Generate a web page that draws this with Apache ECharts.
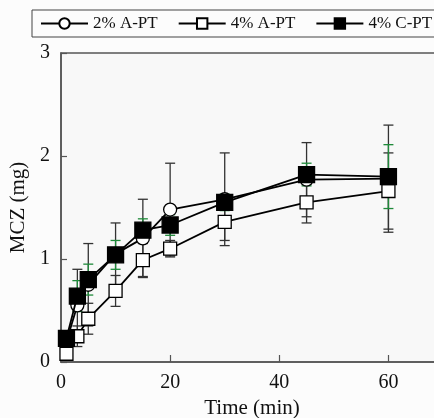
<!DOCTYPE html>
<html><head><meta charset="utf-8">
<script src="https://cdn.jsdelivr.net/npm/echarts@6/dist/echarts.min.js"></script>
<style>html,body{margin:0;padding:0;background:#fcfcfc}#c{width:434px;height:418px}</style>
</head><body><div id="c"></div>
<script>
const times = [1, 3, 5, 10, 15, 20, 30, 45, 60];
const a2 = [0.2, 0.55, 0.75, 1.05, 1.2, 1.48, 1.58, 1.77, 1.78];
const a2Err = [0.08, 0.35, 0.4, 0.3, 0.38, 0.45, 0.45, 0.36, 0.52];
const a4 = [0.08, 0.25, 0.42, 0.69, 0.99, 1.1, 1.36, 1.55, 1.66];
const a4Err = [0.05, 0.1, 0.15, 0.15, 0.16, 0.08, 0.18, 0.2, 0.37];
const c4 = [0.23, 0.64, 0.8, 1.04, 1.28, 1.33, 1.55, 1.82, 1.8];
const c4Err = [0.05, 0.15, 0.15, 0.14, 0.11, 0.1, 0.08, 0.11, 0.31];
const xTicks = [0, 20, 40, 60];
const yTicks = [0, 1, 2, 3];
const names = ['2% A-PT', '4% A-PT', '4% C-PT'];

const FONT = '"Liberation Serif","Times New Roman",serif';

function errSeries(vals, errs, color) {
  return {
    type: 'custom', silent: true, z: 1,
    renderItem: function (params, api) {
      const x = api.value(0), lo = api.value(1), hi = api.value(2);
      const p1 = api.coord([x, lo]), p2 = api.coord([x, hi]);
      const w = 5;
      const st = {stroke: color, lineWidth: 1.3};
      return {type: 'group', children: [
        {type: 'line', shape: {x1: p1[0], y1: p1[1], x2: p2[0], y2: p2[1]}, style: st},
        {type: 'line', shape: {x1: p1[0]-w, y1: p1[1], x2: p1[0]+w, y2: p1[1]}, style: st},
        {type: 'line', shape: {x1: p2[0]-w, y1: p2[1], x2: p2[0]+w, y2: p2[1]}, style: st}
      ]};
    },
    encode: {x: 0, y: [1, 2]},
    data: times.map((t, i) => [t, vals[i] - errs[i], vals[i] + errs[i]])
  };
}

function lineSeries(name, vals, symbol, size, fill, z) {
  return {
    name: name, type: 'line', z: z,
    data: times.map((t, i) => [t, vals[i]]),
    symbol: symbol, symbolSize: size, showAllSymbol: true,
    lineStyle: {color: '#000', width: 1.8},
    itemStyle: {color: fill, borderColor: '#000', borderWidth: 1.3, opacity: 1},
    emphasis: {disabled: true}
  };
}

const chart = echarts.init(document.getElementById('c'), null, {renderer: 'canvas'});
chart.setOption({
  backgroundColor: '#fcfcfc',
  animation: false,
  textStyle: {fontFamily: FONT},
  legend: {
    data: names, left: 32, top: 10, width: 460,
    borderColor: '#444', borderWidth: 1, padding: [5, 14, 5, 8],
    itemWidth: 47, itemHeight: 13, itemGap: 20,
    textStyle: {fontFamily: FONT, fontSize: 17, color: '#111'}
  },
  grid: {left: 61, top: 53, height: 309, width: 382, show: true,
         outerBoundsMode: 'none', containLabel: false,
         backgroundColor: '#f8f8f8', borderColor: '#555', borderWidth: 1.5},
  xAxis: {
    type: 'value', min: 0, max: 70, interval: 20,
    name: 'Time (min)', nameLocation: 'middle', nameGap: 33,
    nameTextStyle: {fontFamily: FONT, fontSize: 21, color: '#111'},
    axisLine: {lineStyle: {color: '#555', width: 1.5}},
    axisTick: {inside: true, length: 7, lineStyle: {color: '#555', width: 1.2}},
    axisLabel: {fontFamily: FONT, fontSize: 20, color: '#111', margin: 11, showMaxLabel: false},
    splitLine: {show: false}
  },
  yAxis: {
    type: 'value', min: 0, max: 3, interval: 1,
    name: 'MCZ (mg)', nameLocation: 'middle', nameGap: 24,
    nameTextStyle: {fontFamily: FONT, fontSize: 21, color: '#111'},
    axisLine: {lineStyle: {color: '#555', width: 1.5}},
    axisTick: {inside: true, length: 6, lineStyle: {color: '#555', width: 1.2}},
    axisLabel: {fontFamily: FONT, fontSize: 20, color: '#111', margin: 11},
    splitLine: {show: false}
  },
  series: [
    errSeries(a2, a2Err, '#333'),
    errSeries(a4, a4Err, '#333'),
    errSeries(c4, c4Err, '#1f8a3a'),
    lineSeries(names[0], a2, 'circle', 13, '#fff', 3),
    lineSeries(names[1], a4, 'rect', 13, '#fff', 4),
    lineSeries(names[2], c4, 'rect', 16, '#000', 5)
  ]
});
</script></body></html>
